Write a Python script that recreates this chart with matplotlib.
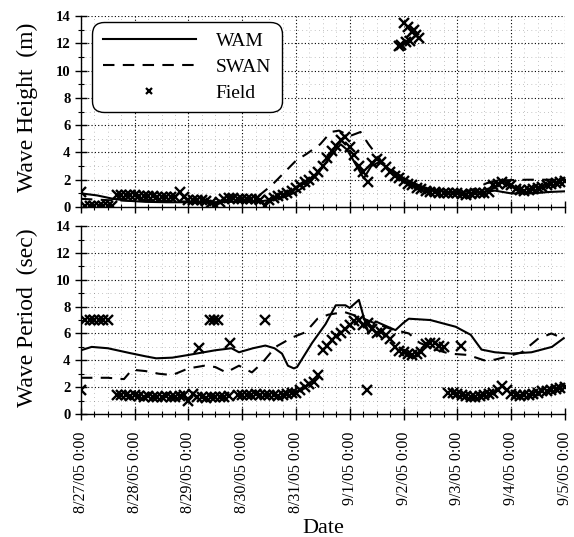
import numpy as np
import matplotlib
matplotlib.use('Agg')
import matplotlib.pyplot as plt
from matplotlib.ticker import MultipleLocator
from matplotlib.lines import Line2D

plt.rcParams['font.family'] = ['Liberation Serif', 'DejaVu Serif']

# x axis: days since 8/27/05 0:00
DATE_LABELS = ['8/27/05 0:00', '8/28/05 0:00', '8/29/05 0:00', '8/30/05 0:00',
               '8/31/05 0:00', '9/1/05 0:00', '9/2/05 0:00', '9/3/05 0:00',
               '9/4/05 0:00', '9/5/05 0:00']

# ---- Wave height (m) ----
WAM_HS_T = [0, 0.3, 0.6, 0.9, 1.2, 1.6, 2.0, 2.4, 2.8, 3.1, 3.3, 3.5, 3.8, 4.0, 4.2,
            4.4, 4.6, 4.83, 4.95, 5.1, 5.26, 5.4, 5.55, 5.8, 6.1, 6.4, 6.8, 7.1,
            7.4, 7.7, 8.0, 8.4, 8.7, 9.0]
WAM_HS = [1.0, 0.85, 0.6, 0.45, 0.38, 0.35, 0.35, 0.35, 0.38, 0.42, 0.4, 0.5, 0.75,
          1.1, 1.6, 2.4, 3.5, 4.6, 4.2, 3.2, 2.1, 3.0, 3.3, 2.6, 1.9, 1.4, 1.1, 1.0,
          1.05, 1.2, 1.0, 1.0, 1.1, 1.15]

SWAN_HS_T = [0, 0.5, 1.0, 2.0, 3.0, 3.3, 3.55, 3.8, 4.0, 4.2, 4.45, 4.65, 4.8, 5.0,
             5.2, 5.35, 5.6, 5.9, 6.2, 6.5, 7.0, 7.3, 7.55, 7.8, 8.3, 8.7, 9.0]
SWAN_HS = [0.6, 0.5, 0.45, 0.4, 0.5, 0.8, 1.6, 2.6, 3.4, 3.9, 4.6, 5.5, 5.6, 5.2,
           5.5, 4.6, 3.3, 2.4, 1.7, 1.2, 1.0, 1.3, 1.75, 1.95, 2.0, 2.0, 2.0]

FIELD_STEP_DAYS = 2.0 / 24.0   # field record every 2 hours
FIELD_HS = [
    1.1, 0.05, 0.05, 0.05, 0.05, 0.05, 0.05, 0.05, 0.9, 0.85, 0.85, 0.85,   # 8/27
    0.85, 0.8, 0.8, 0.8, 0.8, 0.75, 0.75, 0.75, 0.7, 0.7, 1.1, 0.7,          # 8/28
    0.55, 0.5, 0.5, 0.5, 0.45, 0.3, 0.15, 0.4, 0.6, 0.65, 0.65, 0.6,         # 8/29
    0.6, 0.6, 0.6, 0.6, 0.5, 0.1, 0.55, 0.65, 0.8, 0.9, 1.0, 1.2,            # 8/30
    1.4, 1.6, 1.8, 2.0, 2.3, 2.6, 3.0, 3.6, 4.1, 4.5, 4.9, 5.1,              # 8/31
    4.4, 3.8, 3.0, 2.6, 1.8, 3.2, 3.5, 3.3, 2.9, 2.6, 2.3, 2.1,              # 9/1
    1.9, 1.7, 1.6, 1.4, 1.3, 1.2, 1.1, 1.1, 1.05, 1.0, 1.0, 1.0,             # 9/2
    1.0, 0.95, 0.9, 0.95, 1.0, 1.05, 1.0, 1.1, 1.6, 1.7, 1.8, 1.7,           # 9/3
    1.6, 1.3, 1.25, 1.2, 1.25, 1.3, 1.4, 1.5, 1.6, 1.7, 1.75, 1.8,           # 9/4
    1.9]                                                                     # 9/5
FIELD_HS_EXTRA_T = [5.92, 5.96, 6.0, 6.04, 6.08, 6.12, 6.16, 6.2, 6.24, 6.28]
FIELD_HS_EXTRA = [11.8, 11.9, 13.5, 12.1, 13.2, 12.2, 12.8, 13.0, 12.6, 12.4]

# ---- Wave period (sec) ----
WAM_TP_T = [0, 0.2, 0.5, 0.9, 1.2, 1.4, 1.7, 2.0, 2.5, 2.8, 2.94, 3.2, 3.43, 3.6,
            3.74, 3.85, 3.96, 4.02, 4.3, 4.55, 4.74, 4.92, 5.0, 5.17, 5.26, 5.35,
            5.48, 5.65, 5.85, 6.0, 6.1, 6.5, 6.97, 7.25, 7.45, 7.7, 8.0, 8.38,
            8.76, 8.98]
WAM_TP = [4.75, 5.0, 4.9, 4.55, 4.3, 4.15, 4.2, 4.4, 4.75, 4.9, 4.6, 4.9, 5.1, 4.9,
          4.5, 3.6, 3.4, 3.5, 5.3, 6.7, 8.1, 8.1, 7.9, 8.5, 7.2, 6.0, 6.9, 6.6, 6.25,
          6.8, 7.1, 7.0, 6.5, 5.9, 4.8, 4.6, 4.5, 4.6, 5.0, 5.65]

SWAN_TP_T = [0, 0.5, 0.8, 0.95, 1.2, 1.45, 1.7, 2.0, 2.3, 2.5, 2.7, 2.94, 3.18, 3.37,
             3.62, 3.93, 4.18, 4.4, 4.6, 4.9, 5.2, 5.5, 5.8, 6.1, 6.3, 6.6, 6.85, 7.2,
             7.5, 7.7, 7.9, 8.2, 8.5, 8.75, 9.0]
SWAN_TP = [2.7, 2.7, 2.6, 3.3, 3.2, 3.0, 2.9, 3.4, 3.6, 3.5, 3.1, 3.6, 3.1, 3.8, 5.0,
           5.7, 6.1, 7.1, 7.4, 7.6, 7.2, 6.7, 6.3, 6.0, 5.3, 4.8, 4.5, 4.4, 4.0, 4.05,
           4.25, 4.6, 5.6, 6.0, 5.6]

nan = np.nan
FIELD_TP = [
    1.8, 7.0, 7.0, 7.0, 7.0, 7.0, 7.0, nan, 1.45, 1.4, 1.4, 1.35,           # 8/27
    1.4, 1.35, 1.3, 1.35, 1.3, 1.3, 1.3, 1.35, 1.3, 1.3, 1.35, 1.4,          # 8/28
    1.0, 1.5, 1.3, 1.25, 1.2, 1.25, 1.3, 1.25, 1.3, 1.35, nan, 1.4,          # 8/29
    1.45, 1.4, 1.45, 1.5, 1.45, 1.4, 1.45, 1.4, 1.35, 1.4, 1.5, 1.55,        # 8/30
    1.6, 1.8, 2.0, 2.2, 2.4, 2.9, 4.8, 5.1, 5.5, 5.8, 6.0, 6.3,              # 8/31
    6.6, 6.9, 7.0, 6.6, 6.8, 6.3, 6.0, 6.1, 5.9, 5.6, 5.0, 4.7,              # 9/1
    4.6, 4.5, 4.4, 4.5, 4.6, 5.2, 5.3, 5.3, 5.1, 5.0, 1.6, 1.55,             # 9/2
    1.5, 1.4, 1.35, 1.3, 1.3, 1.35, 1.4, 1.5, 1.6, 1.8, 2.1, 1.8,            # 9/3
    1.5, 1.4, 1.35, 1.4, 1.45, 1.5, 1.6, 1.7, 1.75, 1.8, 1.9, 1.95,          # 9/4
    2.0]                                                                     # 9/5
FIELD_TP_EXTRA_T = [2.2, 2.4, 2.47, 2.55, 2.78, 3.43, 5.32, 7.06]
FIELD_TP_EXTRA = [4.9, 7.0, 7.0, 7.0, 5.3, 7.0, 1.8, 5.1]

field_t = np.arange(len(FIELD_HS)) * FIELD_STEP_DAYS

fig = plt.figure(figsize=(5.74, 5.37), dpi=100)
ax1 = fig.add_axes([0.141, 0.6145, 0.843, 0.3557])
ax2 = fig.add_axes([0.141, 0.229, 0.843, 0.350])

line_kw = dict(color='k', lw=1.5)
dash = (5.5, 4)
mk_kw = dict(ls='none', marker='x', color='k', ms=6.5, mew=1.7)

ax1.plot(WAM_HS_T, WAM_HS, **line_kw)
ax1.plot(SWAN_HS_T, SWAN_HS, dashes=dash, **line_kw)
ax1.plot(field_t, FIELD_HS, **mk_kw)
ax1.plot(FIELD_HS_EXTRA_T, FIELD_HS_EXTRA, **mk_kw)

ax2.plot(WAM_TP_T, WAM_TP, **line_kw)
ax2.plot(SWAN_TP_T, SWAN_TP, dashes=dash, **line_kw)
ax2.plot(field_t[:len(FIELD_TP)], FIELD_TP, **mk_kw)
ax2.plot(FIELD_TP_EXTRA_T, FIELD_TP_EXTRA, **mk_kw)

for ax in (ax1, ax2):
    ax.set_xlim(0, 9)
    ax.set_ylim(0, 14)
    ax.xaxis.set_major_locator(MultipleLocator(1))
    ax.xaxis.set_minor_locator(MultipleLocator(0.25))
    ax.yaxis.set_major_locator(MultipleLocator(2))
    ax.yaxis.set_minor_locator(MultipleLocator(1))
    ax.grid(which='major', ls=(0, (1, 2)), color='k', lw=0.8)
    ax.grid(which='minor', ls=(0, (1, 5)), color='k', lw=0.5, alpha=0.45)
    ax.set_axisbelow(True)
    for s in ('top', 'right'):
        ax.spines[s].set_visible(False)
    for s in ('left', 'bottom'):
        ax.spines[s].set_linewidth(1.0)
    ax.tick_params(which='major', direction='inout', length=8, width=1)
    ax.tick_params(which='minor', direction='inout', length=4, width=0.8)
    for lab in ax.get_yticklabels():
        lab.set_fontsize(10.5)
        lab.set_fontweight('bold')

ax1.tick_params(axis='x', labelbottom=False)
ax2.set_xticks(range(len(DATE_LABELS)))
ax2.set_xticklabels(DATE_LABELS, rotation=90, fontsize=11.5)
ax2.tick_params(axis='x', which='major', pad=9)

ax1.set_ylabel('Wave Height  (m)', fontsize=17)
ax1.yaxis.set_label_coords(-0.089, 0.52)
ax2.set_ylabel('Wave Period  (sec)', fontsize=17)
ax2.yaxis.set_label_coords(-0.089, 0.51)
ax2.set_xlabel('Date', fontsize=16, labelpad=4)

handles = [Line2D([], [], **line_kw),
           Line2D([], [], dashes=dash, **line_kw),
           Line2D([], [], ls='none', marker='x', color='k', ms=4.5, mew=1.6)]
leg = ax1.legend(handles, ['WAM', 'SWAN', 'Field'], loc='upper left',
                 bbox_to_anchor=(0.023, 0.969), borderaxespad=0, fancybox=True,
                 edgecolor='k', framealpha=1, fontsize=14, handlelength=4.8,
                 labelspacing=0.42, borderpad=0.55, handletextpad=1.0)
leg.get_frame().set_linewidth(1.0)
leg.get_frame().set_boxstyle('round', pad=0, rounding_size=0.6)

fig.savefig('out.png', dpi=100)
